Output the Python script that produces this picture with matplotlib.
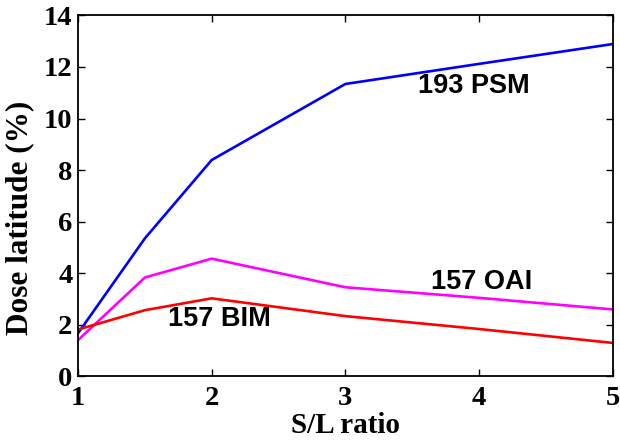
import matplotlib.pyplot as plt

# S/L ratio on the x axis
sl_ratio = [1, 1.5, 2, 3, 4, 5]

# dose latitude (%) for each exposure setup
psm_193 = [1.67, 5.35, 8.39, 11.34, 12.12, 12.89]
oai_157 = [1.40, 3.83, 4.56, 3.45, 3.04, 2.59]
bim_157 = [1.81, 2.56, 3.02, 2.33, 1.83, 1.29]

fig = plt.figure(figsize=(6.2, 4.42), dpi=100)
ax = fig.add_axes([0.126, 0.149, 0.862, 0.816])

ax.plot(sl_ratio, psm_193, color='#0000ff', lw=1.9)
ax.plot(sl_ratio, oai_157, color='#ff00ff', lw=1.9)
ax.plot(sl_ratio, bim_157, color='#ff0000', lw=1.9)

lbl = dict(fontfamily='Liberation Sans', fontweight='bold', fontsize=19.5,
           ha='center', va='center')
ax.text(3.96, 11.27, '193 PSM', **lbl)
ax.text(4.02, 3.66, '157 OAI', **lbl)
ax.text(2.06, 2.20, '157 BIM', **lbl)

ax.set_xlim(1, 5)
ax.set_ylim(0, 14)
ax.set_xticks([1, 2, 3, 4, 5])
ax.set_yticks(range(0, 15, 2))

tick_font = dict(fontfamily='Liberation Serif', fontweight='bold', fontsize=20.5)
ax.set_xticklabels([str(v) for v in [1, 2, 3, 4, 5]], **tick_font)
ax.set_yticklabels([str(v) for v in range(0, 15, 2)], **tick_font)
ax.tick_params(direction='in', top=True, right=True, length=5, width=1)
ax.tick_params(axis='x', pad=7)
ax.tick_params(axis='y', pad=4)

for s in ax.spines.values():
    s.set_linewidth(1.3)

ax.set_xlabel('S/L ratio', fontfamily='Liberation Serif', fontweight='bold',
              fontsize=21, labelpad=1)
ax.set_ylabel('Dose latitude (%)', fontfamily='Liberation Serif', fontweight='bold',
              fontsize=22.5)
ax.yaxis.set_label_coords(-0.083, 0.44)

fig.savefig('out.png', dpi=100)
